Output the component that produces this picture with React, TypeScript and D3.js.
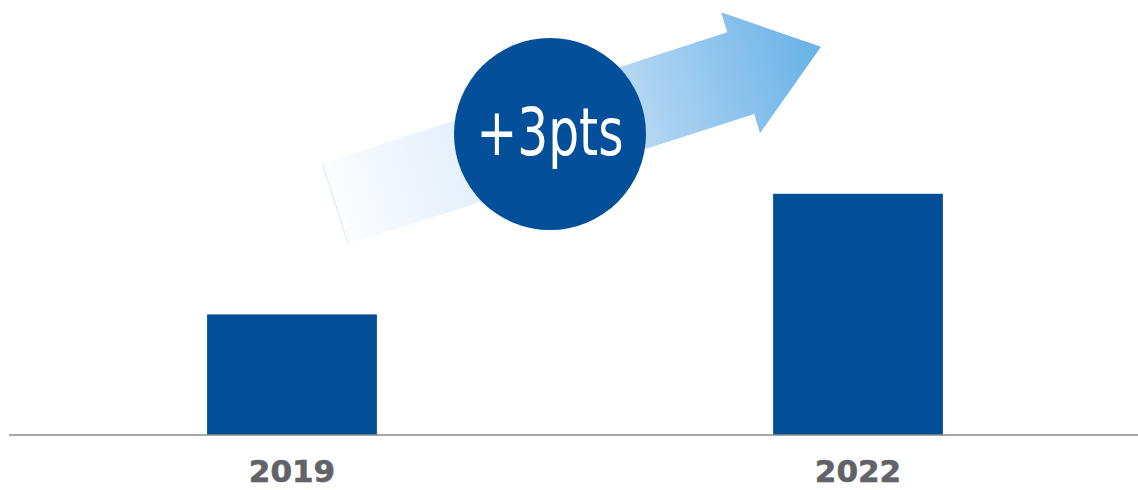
import React from "react";
import * as d3 from "d3";

const years = ["2019", "2022"];
const values = [3, 6];
const changeLabel = "+3pts";

const W = 1138;
const H = 490;

export default function App() {
  const x = d3.scaleBand<string>().domain(years).range([9, 1141]).paddingInner(0.7).paddingOuter(0.35);
  const y = d3.scaleLinear().domain([0, 10]).range([435, 33]);
  const bw = x.bandwidth();

  const arrowPts: [number, number][] = [
    [322.3, 163.3],
    [727.3, 32.3],
    [721, 12.3],
    [821, 46.7],
    [760, 133.3],
    [754.3, 114],
    [348.3, 244.5],
  ];
  const arrowPath = d3.line()(arrowPts.concat([arrowPts[0]])) || "";

  return (
    <svg width={W} height={H} style={{ position: "absolute", left: 0, top: 0 }}>
      <defs>
        <linearGradient id="arrowGrad" gradientUnits="userSpaceOnUse" x1={335} y1={205} x2={810} y2={60}>
          <stop offset="0" stopColor="#fbfdff" />
          <stop offset="0.3" stopColor="#e3effa" />
          <stop offset="0.65" stopColor="#b2d5f2" />
          <stop offset="1" stopColor="#6db4e8" />
        </linearGradient>
      </defs>
      <rect x={0} y={0} width={W} height={H} fill="#ffffff" />
      <path d={arrowPath} fill="url(#arrowGrad)" />
      <line x1={322.3} y1={163.3} x2={348.3} y2={244.5} stroke="#d6e8f8" strokeWidth={1} />
      <ellipse cx={550} cy={134} rx={96} ry={96} fill="#034f99" />
      <text
        x={550}
        y={155}
        textAnchor="middle"
        fill="#ffffff"
        fontFamily="'DejaVu Sans Condensed', 'DejaVu Sans', sans-serif"
        fontSize={66}
        textLength={147}
        lengthAdjust="spacingAndGlyphs"
      >
        {changeLabel}
      </text>
      {years.map((yr, i) => (
        <rect
          key={yr}
          x={x(yr)!}
          y={y(values[i])}
          width={bw}
          height={y(0) - y(values[i])}
          fill="#024f98"
        />
      ))}
      <line x1={9} x2={1138} y1={435} y2={435} stroke="#8a8a8a" strokeWidth={1.6} />
      {years.map((yr) => (
        <text
          key={yr}
          x={x(yr)! + bw / 2}
          y={482}
          textAnchor="middle"
          fill="#626368"
          fontFamily="'DejaVu Sans', Verdana, sans-serif"
          fontWeight="bold"
          fontSize={31}
          stroke="#626368"
          strokeWidth={0.6}
        >
          {yr}
        </text>
      ))}
    </svg>
  );
}
